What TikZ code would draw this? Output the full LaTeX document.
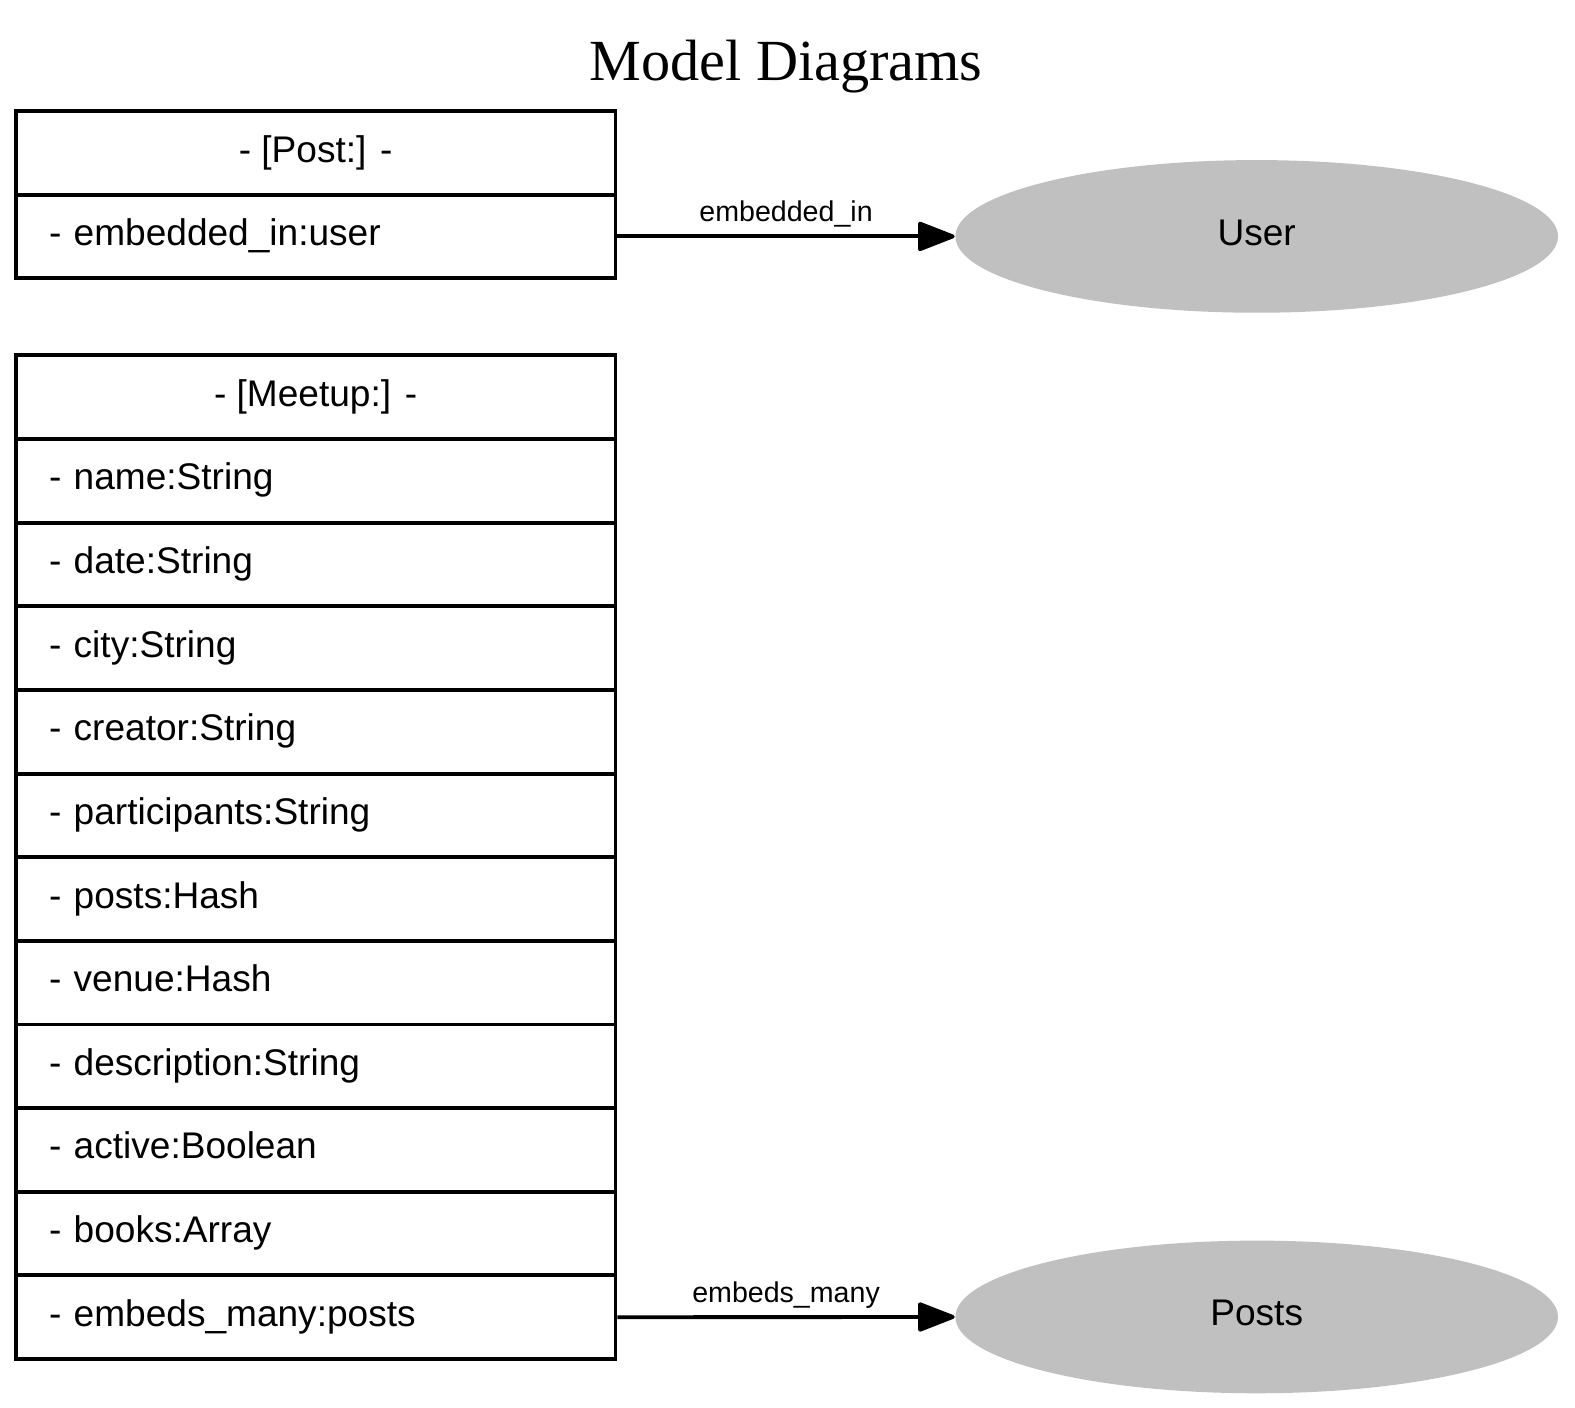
\documentclass[tikz,border=0pt]{standalone}
\usepackage{fontspec}
\setmainfont{Liberation Serif}
\setsansfont{Liberation Sans}
\usetikzlibrary{shapes.geometric,arrows.meta}
\definecolor{nodegray}{HTML}{C0C0C0}

\begin{document}
\begin{tikzpicture}[x=0.01cm,y=-0.01cm]
\tikzstyle{every node}+=[font=\sffamily\fontsize{10.5}{12}\selectfont]
\tikzstyle{head}=[draw,line width=1.1pt,minimum width=5.97cm,minimum height=0.833cm,inner sep=0pt,
  text height=0.72em,text depth=0.21em]
\tikzstyle{field}=[head,text width=5.31cm,inner xsep=0.33cm,align=left]
\tikzstyle{model}=[ellipse,fill=nodegray,minimum width=6cm,minimum height=1.52cm,inner sep=0pt,
  text height=0.72em,text depth=0.21em]
\tikzstyle{rel}=[line width=1.1pt,-{Triangle[length=0.40cm,width=0.30cm,round]}]
\tikzstyle{rellabel}=[font=\sffamily\fontsize{8.1}{10}\selectfont,above,inner sep=2pt]
\useasboundingbox (0,0) rectangle (1569.1,1402.7);
\node[font=\rmfamily\fontsize{16.5}{20}\selectfont] (title) at (783,66) {Model Diagrams};
% Post
\node[head] (post) at (314.5,152.5) {- [Post:] -};
\node[field] (post1) at (314.5,235.5) {- embedded\_in:user};
\node[model] (user) at (1252,235.5) {User};
\draw[rel] (post1.east) -- (user.west) node[rellabel,midway] {embedded\_in};%post-user
% Meetup
\node[head] (meetup) at (314.5,395.67) {- [Meetup:] -};
\foreach \f [count=\i] in {name:String, date:String, city:String, creator:String,
  participants:String, posts:Hash, venue:Hash, description:String,
  active:Boolean, books:Array, embeds\_many:posts}
  \node[field] (meetup\i) at (314.5,395.67+83.33*\i) {- \f};
\node[model] (posts) at (1252,1312) {Posts};
\draw[rel] (meetup11.east) -- (posts.west) node[rellabel,midway] {embeds\_many};%meetup-posts
\end{tikzpicture}
\end{document}
